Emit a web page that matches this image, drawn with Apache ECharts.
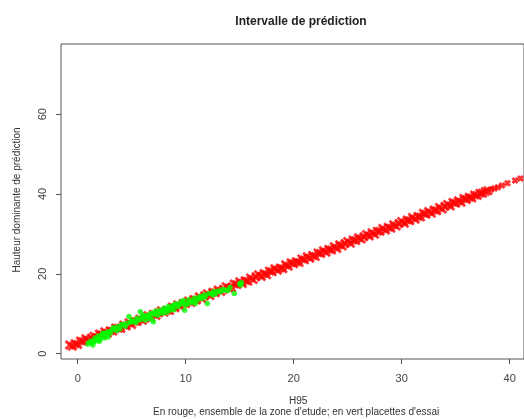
<!DOCTYPE html>
<html>
<head>
<meta charset="utf-8">
<script src="https://cdn.jsdelivr.net/npm/echarts@6/dist/echarts.min.js"></script>
<style>
html,body{margin:0;padding:0;background:#fff;}
#c{width:524px;height:419px;}
</style>
</head>
<body>
<div id="c"></div>
<script>
var titleText = "Intervalle de prédiction";
var xTitle = "H95";
var subTitle = "En rouge, ensemble de la zone d'etude; en vert placettes d'essai";
var yTitle = "Hauteur dominante de prédiction";
var xTicks = [0, 10, 20, 30, 40];
var yTicks = [0, 20, 40, 60];

var redX = [
 -0.75,-0.5,-0.25,0,0.25,0.5,0.75,1,1.25,1.5,
 1.75,2,2.25,2.5,2.75,3,3.25,3.5,3.75,4,
 4.25,4.5,4.75,5,5.25,5.5,5.75,6,6.25,6.5,
 6.75,7,7.25,7.5,7.75,8,8.25,8.5,8.75,9,
 9.25,9.5,9.75,10,10.25,10.5,10.75,11,11.25,11.5,
 11.75,12,12.25,12.5,12.75,13,13.25,13.5,13.75,14,
 14.25,14.5,14.75,15,15.25,15.5,15.75,16,16.25,16.5,
 16.75,17,17.25,17.5,17.75,18,18.25,18.5,18.75,19,
 19.25,19.5,19.75,20,20.25,20.5,20.75,21,21.25,21.5,
 21.75,22,22.25,22.5,22.75,23,23.25,23.5,23.75,24,
 24.25,24.5,24.75,25,25.25,25.5,25.75,26,26.25,26.5,
 26.75,27,27.25,27.5,27.75,28,28.25,28.5,28.75,29,
 29.25,29.5,29.75,30,30.25,30.5,30.75,31,31.25,31.5,
 31.75,32,32.25,32.5,32.75,33,33.25,33.5,33.75,34,
 34.25,34.5,34.75,35,35.25,35.5,35.75,36,36.25,36.5,
 36.75,37,37.25,37.5,37.75,38,
 38.3,38.6,38.9,39.3,39.8,40.5,41.0
];
var redY = [
 2.2,1.85,2.5,2.3,3.15,3.05,3.75,3.4,3.9,4.35,
 4.05,4.95,4.75,5.5,5.1,5.75,5.65,6.45,6.35,6.3,
 7.2,6.95,7.75,7.3,8.05,8.05,8.7,8.35,8.95,9.5,
 9.1,9.9,9.55,10.25,10.75,10.4,10.9,10.8,11.7,11.5,
 12.25,11.85,12.55,12.55,13.2,12.8,13.6,13.45,14.25,13.85,
 14.5,15.0,14.55,15.4,15.25,15.95,15.6,16.15,16.75,16.4,
 16.55,17.45,17.3,18.0,17.6,18.3,18.15,18.95,18.55,19.25,
 19.75,19.35,20.1,19.8,20.7,20.55,21.25,20.9,21.45,21.3,
 22.25,21.9,22.8,22.55,23.05,22.85,23.75,23.5,24.3,23.9,
 24.6,24.35,25.25,25.1,25.8,25.4,26.15,25.95,26.8,26.35,
 27.3,26.95,27.6,28.1,27.65,28.5,28.35,29.05,28.7,29.3,
 29.85,29.5,30.3,29.9,30.65,30.65,31.35,30.95,31.7,31.4,
 32.3,31.95,32.6,33.1,32.65,33.5,33.3,34.1,33.7,34.35,
 34.25,35.15,34.9,35.6,35.2,36.0,35.8,36.65,36.25,36.9,
 37.35,37.0,37.9,37.7,38.3,37.95,38.85,38.6,39.2,39.0,
 39.75,39.6,40.2,40.2,40.65,40.8,
 41.1,41.4,41.7,42.1,42.7,43.4,43.9
];

var greenX = [
 0.94,1.25,1.4,1.85,2.16,2.3,2.6,2.9,3.2,3.5,3.8,4.3,4.6,4.75,5.2,5.65,5.8,6.1,6.25,6.55,
 6.9,7.0,7.5,7.8,8.1,8.4,8.7,9.0,9.3,9.6,9.9,10.2,10.7,11.1,11.4,11.7,12.0,12.35,12.8,13.25,
 13.7,14.5,15.1,15.15,
 1.6,1.9,2.1,2.4,2.7,3.0,3.3,3.6,3.9,4.1,4.4,4.9,5.0,5.4,5.5,5.9,6.0,6.3,6.6,6.7,
 6.8,7.1,7.2,7.4,7.6,7.9,8.0,8.2,8.3,8.5,8.8,8.9,9.1,9.4,9.7,9.8,10.0,10.3,10.5,10.8,
 10.9,11.2,11.5,11.8,12.1,12.5,12.6,13.0,13.4,13.9,14.1,15.0,
 1.1,1.3,1.5,1.7,2.0,2.5,2.8
];
var greenY = [
 2.4,2.75,2.2,3.4,4.3,5.1,4.7,5.5,5.9,6.35,6.8,7.2,7.6,9.3,8.0,8.45,10.5,9.3,8.45,8.9,
 10.1,8.0,10.5,10.1,10.9,11.8,11.4,12.2,11.8,13.0,10.9,12.6,13.0,13.45,14.3,14.7,12.6,15.1,15.1,15.5,
 15.95,15.1,17.2,17.8,
 3.9,4.4,3.6,5.0,5.4,5.2,6.5,5.8,6.2,7.4,6.9,7.9,8.3,7.8,8.9,8.7,9.6,9.5,9.4,10.0,
 8.7,9.9,10.6,9.6,10.9,10.6,11.4,10.3,11.2,10.8,12.0,11.0,12.5,12.3,12.5,13.3,12.2,13.5,12.9,13.9,
 12.6,14.1,13.8,14.2,15.0,14.7,15.6,15.7,16.1,15.8,16.6,17.5,
 2.9,3.2,3.0,3.3,3.1,4.0,4.2
];

function pairs(xs, ys){ var o=[]; for (var i=0;i<xs.length;i++) o.push([xs[i], ys[i]]); return o; }

var font = "'Liberation Sans', Arial, sans-serif";
var chart = echarts.init(document.getElementById('c'));
chart.setOption({
  animation: false,
  backgroundColor: '#fff',
  title: {
    text: titleText, left: 296, top: 11, textAlign: 'center',
    textStyle: {fontFamily: font, fontSize: 12, fontWeight: 'bold', color: '#222'}
  },
  grid: {left: 61, right: -7, top: 44, bottom: 60, show: true, borderColor: '#555', borderWidth: 1, backgroundColor: 'transparent'},
  xAxis: {
    type: 'value', min: -1.55, max: 41.33,
    axisLine: {show: false, onZero: false},
    splitLine: {show: false},
    axisTick: {show: true, inside: false, length: 5, customValues: xTicks, lineStyle: {color: '#555'}},
    axisLabel: {customValues: xTicks, margin: 14, fontFamily: font, fontSize: 11, color: '#444'}
  },
  yAxis: {
    type: 'value', min: -1.33, max: 77.57,
    axisLine: {show: false, onZero: false},
    splitLine: {show: false},
    axisTick: {show: true, inside: false, length: 5, customValues: yTicks, lineStyle: {color: '#555'}},
    axisLabel: {customValues: yTicks, rotate: 90, margin: 13, fontFamily: font, fontSize: 11, color: '#444'}
  },
  graphic: [
    {type: 'text', left: 289, top: 396, style: {text: xTitle, font: "10px " + font, fill: '#333'}},
    {type: 'text', left: 153, top: 407, style: {text: subTitle, font: "10px " + font, fill: '#333'}},
    {type: 'text', x: 17, y: 200, rotation: Math.PI/2, style: {text: yTitle, font: "10px " + font, fill: '#333', align: 'center', verticalAlign: 'middle'}}
  ],
  series: [
    {
      type: 'scatter', data: pairs(redX, redY),
      symbol: 'path://M0 0L10 10M10 0L0 10',
      symbolSize: function (v) { return v[0] > 38 ? 5 : 8; },
      itemStyle: {color: 'rgba(0,0,0,0)', borderColor: '#ff0000', borderWidth: 2.8}
    },
    {
      type: 'scatter', data: pairs(greenX, greenY),
      symbol: 'circle', symbolSize: 5.5,
      itemStyle: {color: '#00ff00'}
    }
  ]
});
</script>
</body>
</html>
